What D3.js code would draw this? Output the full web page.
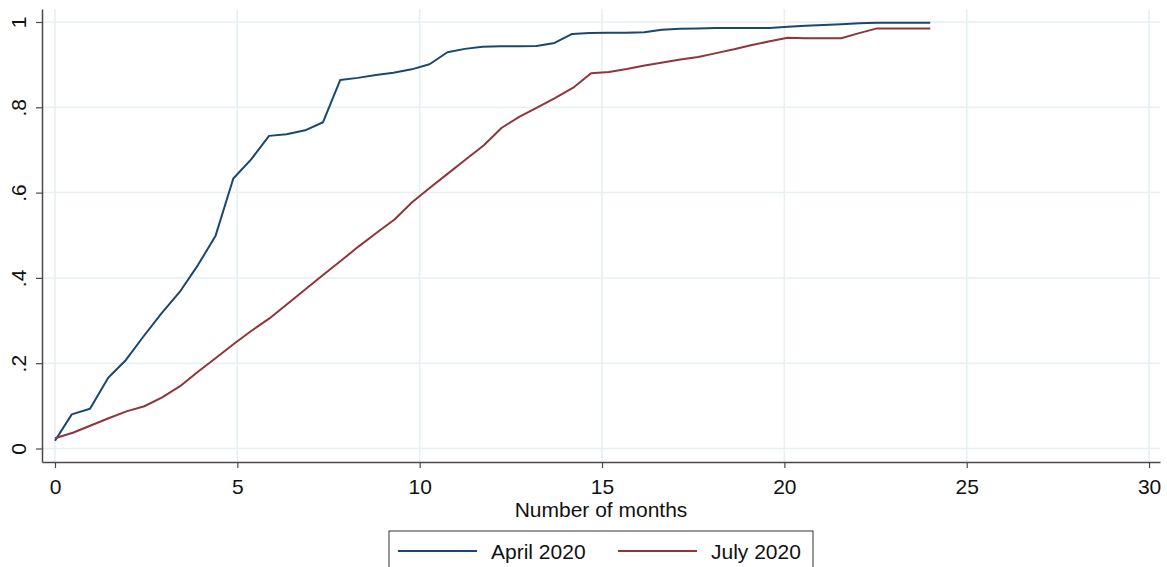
<!DOCTYPE html>
<html>
<head>
<meta charset="utf-8">
<script src="https://cdn.jsdelivr.net/npm/d3@7"></script>
<style>
    body { margin: 0; background: #fff; }
    svg { display: block; font-family: "Liberation Sans", Arial, sans-serif; }
</style>
</head>
<body>
<svg width="1167" height="567"></svg>
<script>
// months since start
let aprMonths = [0, 0.46, 0.96, 1.46, 1.94, 2.42, 2.92, 3.42, 3.92, 4.40, 4.89, 5.38, 5.87, 6.35, 6.86, 7.35,
    7.82, 8.30, 8.80, 9.28, 9.78, 10.27, 10.76, 11.24, 11.72, 12.22, 12.70, 13.20, 13.70, 14.18, 14.66,
    15.16, 15.66, 16.16, 16.64, 17.14, 17.62, 18.12, 18.60, 19.10, 19.60, 20.10, 20.58, 21.08, 21.56,
    22.06, 22.54, 23.04, 23.54, 24.0];
let aprValues = [0.018, 0.080, 0.093, 0.166, 0.207, 0.262, 0.317, 0.367, 0.430, 0.498, 0.633, 0.678, 0.733,
    0.737, 0.746, 0.765, 0.864, 0.869, 0.876, 0.881, 0.889, 0.901, 0.929, 0.937, 0.942, 0.943, 0.943,
    0.944, 0.951, 0.972, 0.974, 0.975, 0.975, 0.976, 0.982, 0.984, 0.985, 0.986, 0.986, 0.986, 0.986,
    0.989, 0.991, 0.993, 0.995, 0.997, 0.998, 0.998, 0.998, 0.998];

let julMonths = [0, 0.49, 0.98, 1.47, 1.96, 2.45, 2.94, 3.43, 3.92, 4.41, 4.90, 5.39, 5.88, 6.37, 6.86, 7.35,
    7.84, 8.33, 8.82, 9.31, 9.80, 10.29, 10.78, 11.27, 11.76, 12.25, 12.74, 13.23, 13.72, 14.21, 14.70,
    15.19, 15.68, 16.17, 16.66, 17.15, 17.64, 18.13, 18.62, 19.11, 19.60, 20.09, 20.58, 21.07, 21.56,
    22.05, 22.54, 23.03, 23.52, 24.0];
let julValues = [0.024, 0.037, 0.054, 0.071, 0.087, 0.099, 0.120, 0.146, 0.180, 0.212, 0.245, 0.276, 0.305,
    0.339, 0.373, 0.407, 0.440, 0.474, 0.506, 0.537, 0.578, 0.612, 0.645, 0.678, 0.711, 0.752, 0.778,
    0.800, 0.822, 0.846, 0.880, 0.883, 0.890, 0.898, 0.905, 0.912, 0.918, 0.927, 0.936, 0.946, 0.955,
    0.963, 0.962, 0.962, 0.962, 0.974, 0.985, 0.985, 0.985, 0.985];

let xTicks = [0, 5, 10, 15, 20, 25, 30];
let yTicks = [0, 0.2, 0.4, 0.6, 0.8, 1];
let yTickLabels = ["0", ".2", ".4", ".6", ".8", "1"];
let seriesNames = ["April 2020", "July 2020"];

let svg = d3.select("svg");
let colors = ["#1a476f", "#90353b"];
let fontSize = 21;

//坐标比例
let x = d3.scaleLinear().domain([-0.356, 30.3]).range([42, 1160]);
let y = d3.scaleLinear().domain([-0.0317, 1.0305]).range([462, 9]);

//网格线
let grid = svg.append("g");
grid.selectAll(".gx").data(xTicks).enter().append("line")
    .attr("x1", d => x(d)).attr("x2", d => x(d))
    .attr("y1", 9).attr("y2", 462)
    .attr("stroke", "#e6eff1").attr("stroke-width", 1.5);
grid.selectAll(".gy").data(yTicks).enter().append("line")
    .attr("x1", 42).attr("x2", 1160)
    .attr("y1", d => y(d)).attr("y2", d => y(d))
    .attr("stroke", "#e6eff1").attr("stroke-width", 1.5);

//折线
let line = d3.line().x(d => x(d[0])).y(d => y(d[1]));
let series = [
    d3.zip(aprMonths, aprValues),
    d3.zip(julMonths, julValues)
];
svg.selectAll(".series").data(series).enter().append("path")
    .attr("d", line)
    .attr("fill", "none")
    .attr("stroke", (d, i) => colors[i])
    .attr("stroke-width", 2)
    .attr("stroke-linejoin", "round");

//x轴
let xAxis = svg.append("g").attr("transform", "translate(0,462)")
    .call(d3.axisBottom(x).tickValues(xTicks).tickSize(6).tickPadding(11).tickSizeOuter(0));
xAxis.select(".domain").attr("stroke", "#4a4a4a").attr("stroke-width", 1.5);
xAxis.selectAll(".tick line").attr("stroke", "#4a4a4a").attr("stroke-width", 1.2);
xAxis.selectAll(".tick text").attr("font-size", fontSize).attr("fill", "#111");

//y轴
let yAxis = svg.append("g").attr("transform", "translate(42,0)")
    .call(d3.axisLeft(y).tickValues(yTicks).tickSize(6).tickSizeOuter(0)
        .tickFormat((d, i) => yTickLabels[i]));
yAxis.select(".domain").attr("stroke", "#4a4a4a").attr("stroke-width", 1.5);
yAxis.selectAll(".tick line").attr("stroke", "#4a4a4a").attr("stroke-width", 1.2);
yAxis.selectAll(".tick text")
    .attr("font-size", fontSize).attr("fill", "#111")
    .attr("x", null).attr("dy", null)
    .attr("text-anchor", "middle")
    .attr("transform", "translate(-16,0) rotate(-90)");

//轴标题
svg.append("text")
    .attr("x", 601).attr("y", 517)
    .attr("text-anchor", "middle")
    .attr("font-size", fontSize).attr("fill", "#111")
    .text("Number of months");

//图例
let legend = svg.append("g");
legend.append("rect")
    .attr("x", 389).attr("y", 531)
    .attr("width", 424).attr("height", 50)
    .attr("fill", "#fff").attr("stroke", "#333").attr("stroke-width", 1);
let legendPos = [{lx: 398, tx: 491}, {lx: 618, tx: 711}];
seriesNames.forEach((name, i) => {
    legend.append("line")
        .attr("x1", legendPos[i].lx).attr("x2", legendPos[i].lx + 79)
        .attr("y1", 551).attr("y2", 551)
        .attr("stroke", colors[i]).attr("stroke-width", 2);
    legend.append("text")
        .attr("x", legendPos[i].tx).attr("y", 559)
        .attr("font-size", fontSize).attr("fill", "#111")
        .text(name);
});
</script>
</body>
</html>
